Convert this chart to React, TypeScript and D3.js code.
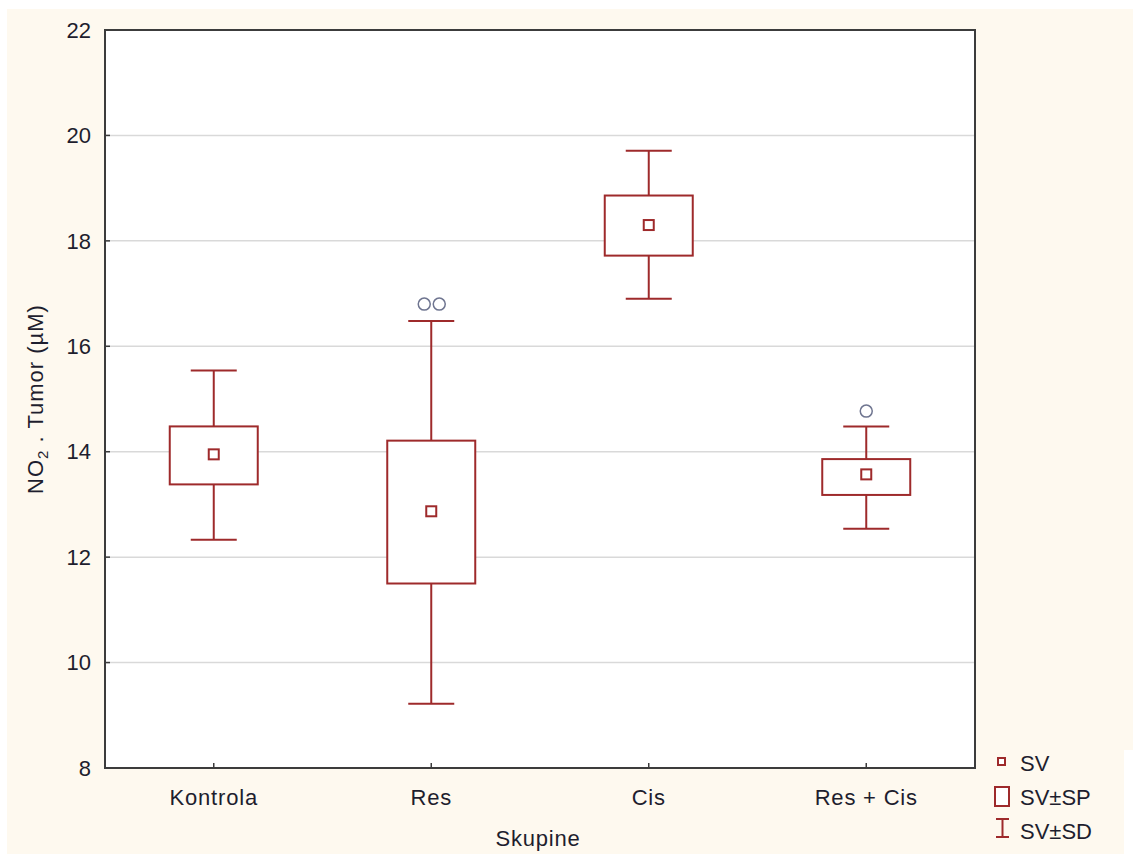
import React from "react";
import * as d3 from "d3";

const categories = ["Kontrola", "Res", "Cis", "Res + Cis"];
const means = [13.95, 12.87, 18.3, 13.57];
const seLow = [13.38, 11.5, 17.72, 13.18];
const seHigh = [14.48, 14.21, 18.86, 13.86];
const sdLow = [12.33, 9.22, 16.9, 12.54];
const sdHigh = [15.54, 16.48, 19.71, 14.48];
const outliers: { cat: string; value: number; offset: number }[] = [
  { cat: "Res", value: 16.8, offset: -7 },
  { cat: "Res", value: 16.8, offset: 8 },
  { cat: "Res + Cis", value: 14.77, offset: 0 },
];
const yTicks = [8, 10, 12, 14, 16, 18, 20, 22];
const gridValues = [10, 12, 14, 16, 18, 20];
const legendItems = ["SV", "SV±SP", "SV±SD"];

const W = 1133;
const H = 854;
const plot = { left: 105, right: 975, top: 30, bottom: 768 };
const RED = "#9E2A2B";
const FONT = "'Liberation Sans', Arial, sans-serif";
const TXT = "#1e1e2e";

export default function App() {
  const y = d3.scaleLinear().domain([8, 22]).range([plot.bottom, plot.top]);
  const x = d3.scaleBand<string>().domain(categories).range([plot.left, plot.right]).padding(0);
  const cx = (c: string) => (x(c) as number) + x.bandwidth() / 2;
  const boxW = 88;
  const capW = 46;
  const meanS = 10;

  return (
    <div style={{ position: "absolute", left: 0, top: 0 }}>
      <svg width={W} height={H} style={{ display: "block" }}>
        <rect x={0} y={0} width={W} height={H} fill="#ffffff" />
        <rect x={7} y={9} width={W - 7} height={H - 9} fill="#FEF9EF" />
        <rect x={1124} y={750} width={9} height={104} fill="#ffffff" />
        <rect x={plot.left} y={plot.top} width={plot.right - plot.left} height={plot.bottom - plot.top} fill="#ffffff" />
        {gridValues.map((v) => (
          <line key={v} x1={plot.left} x2={plot.right} y1={y(v)} y2={y(v)} stroke="#d9d9d9" strokeWidth={1.5} />
        ))}
        {categories.map((c, i) => {
          const xc = cx(c);
          return (
            <g key={c} stroke={RED} strokeWidth={2} fill="none">
              <line x1={xc} x2={xc} y1={y(sdHigh[i])} y2={y(seHigh[i])} />
              <line x1={xc} x2={xc} y1={y(seLow[i])} y2={y(sdLow[i])} />
              <line x1={xc - capW / 2} x2={xc + capW / 2} y1={y(sdHigh[i])} y2={y(sdHigh[i])} />
              <line x1={xc - capW / 2} x2={xc + capW / 2} y1={y(sdLow[i])} y2={y(sdLow[i])} />
              <rect x={xc - boxW / 2} y={y(seHigh[i])} width={boxW} height={y(seLow[i]) - y(seHigh[i])} fill="#ffffff" />
              <rect x={xc - meanS / 2} y={y(means[i]) - meanS / 2} width={meanS} height={meanS} fill="#ffffff" />
            </g>
          );
        })}
        {outliers.map((o, i) => (
          <circle key={i} cx={cx(o.cat) + o.offset} cy={y(o.value)} r={6} fill="none" stroke="#6f7590" strokeWidth={1.5} />
        ))}
        <rect x={plot.left} y={plot.top} width={plot.right - plot.left} height={plot.bottom - plot.top} fill="none" stroke="#3c3c3c" strokeWidth={2} />
        {yTicks.map((t) => (
          <g key={t}>
            <line x1={plot.left} x2={plot.left + 5} y1={y(t)} y2={y(t)} stroke="#3c3c3c" strokeWidth={1.5} />
            <text x={91} y={y(t)} dy="0.35em" textAnchor="end" fontFamily={FONT} fontSize={22} fill={TXT}>
              {t}
            </text>
          </g>
        ))}
        {categories.map((c) => (
          <g key={c}>
            <line x1={cx(c)} x2={cx(c)} y1={plot.bottom} y2={plot.bottom - 5} stroke="#3c3c3c" strokeWidth={1.5} />
            <text x={cx(c)} y={805} textAnchor="middle" fontFamily={FONT} fontSize={22} fill={TXT} letterSpacing={0.8}>
              {c}
            </text>
          </g>
        ))}
        <text x={(plot.left + plot.right) / 2 - 2} y={846} textAnchor="middle" fontFamily={FONT} fontSize={22} fill={TXT} letterSpacing={0.8}>
          Skupine
        </text>
        <text transform={`translate(43,${(plot.top + plot.bottom) / 2}) rotate(-90)`} textAnchor="middle" fontFamily={FONT} fontSize={22} fill={TXT} letterSpacing={1}>
          NO<tspan fontSize={15} dy={5}>2</tspan>
          <tspan dy={-5}> . Tumor (µM)</tspan>
        </text>
        <g fontFamily={FONT} fontSize={22} fill={TXT}>
          <rect x={998} y={758} width={7} height={7} fill="#ffffff" stroke={RED} strokeWidth={2} />
          <text x={1020} y={771}>{legendItems[0]}</text>
          <rect x={995} y={787} width={14} height={19} fill="#ffffff" stroke={RED} strokeWidth={2} />
          <text x={1020} y={805}>{legendItems[1]}</text>
          <g stroke={RED} strokeWidth={2}>
            <line x1={996} x2={1009} y1={819} y2={819} />
            <line x1={996} x2={1009} y1={837} y2={837} />
            <line x1={1002.5} x2={1002.5} y1={819} y2={837} />
          </g>
          <text x={1020} y={839}>{legendItems[2]}</text>
        </g>
      </svg>
    </div>
  );
}
